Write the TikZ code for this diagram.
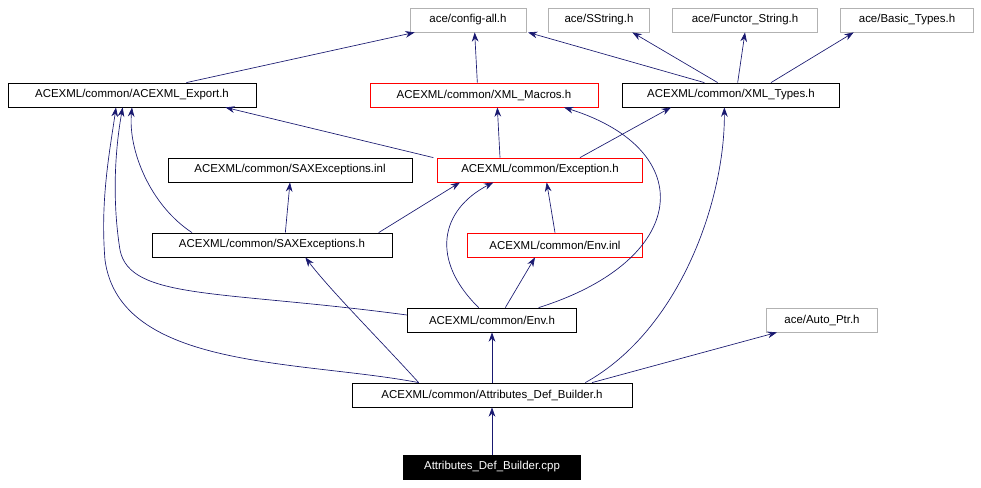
\documentclass[tikz,border=0pt]{standalone}
\usepackage{fontspec}
\setmainfont{Liberation Sans}
\usetikzlibrary{arrows.meta}
\begin{document}
\begin{tikzpicture}[x=0.75pt,y=-0.75pt,
 box/.style={draw=black,fill=white,minimum height=18pt,inner xsep=3pt,font=\fontsize{8.6}{10}\selectfont,line width=0.6pt},
 gray/.style={box,draw=black!30},
 red/.style={box,draw=red},
 e/.style={draw=navy,-{Stealth[length=7pt,width=5pt]},line width=0.5pt}]
\definecolor{navy}{RGB}{25,25,112}
\useasboundingbox (0,0) rectangle (981,488);
\node[gray,minimum width=87pt] (cfg) at (468,20) {ace/config-all.h};
\node[gray,minimum width=76pt] (ss) at (599,20) {ace/SString.h};
\node[gray,minimum width=109pt] (fs) at (745,20) {ace/Functor\_String.h};
\node[gray,minimum width=100pt] (bt) at (907,20) {ace/Basic\_Types.h};
\node[box,minimum width=186pt] (exp) at (132,95) {ACEXML/common/ACEXML\_Export.h};
\node[red,minimum width=171pt] (mac) at (484,95) {ACEXML/common/XML\_Macros.h};
\node[box,minimum width=163pt] (typ) at (731,95) {ACEXML/common/XML\_Types.h};
\node[box,minimum width=183pt] (sinl) at (290,170) {ACEXML/common/SAXExceptions.inl};
\node[red,minimum width=154pt] (exc) at (540,170) {ACEXML/common/Exception.h};
\node[box,minimum width=180pt] (sax) at (272,245) {ACEXML/common/SAXExceptions.h};
\node[red,minimum width=131pt] (einl) at (555,245) {ACEXML/common/Env.inl};
\node[box,minimum width=127pt] (env) at (492,320) {ACEXML/common/Env.h};
\node[gray,minimum width=83pt] (ap) at (822,320) {ace/Auto\_Ptr.h};
\node[box,minimum width=210pt] (adb) at (492,395) {ACEXML/common/Attributes\_Def\_Builder.h};
\node[box,fill=black,text=white,minimum width=133pt] (cpp) at (492,467) {Attributes\_Def\_Builder.cpp};
\draw[e] (exp.north east) ++(-70,0) -- ([xshift=-40]cfg.south);
\draw[e] ([xshift=-5]mac.north) -- ([xshift=5]cfg.south);
\draw[e] ([xshift=-20]typ.north) -- ([xshift=45]cfg.south);
\draw[e] ([xshift=-10]typ.north) -- ([xshift=25]ss.south);
\draw[e] ([xshift=5]typ.north) -- (fs.south);
\draw[e] ([xshift=30]typ.north) -- ([xshift=-40]bt.south);
\draw[e] ([xshift=-80]exc.north) -- ([xshift=70]exp.south);
\draw[e] ([xshift=-30]exc.north) -- ([xshift=10]mac.south);
\draw[e] ([xshift=30]exc.north) -- ([xshift=-45]typ.south);
\draw[e] ([xshift=10]sax.north) -- ([xshift=0]sinl.south);
\draw[e] ([xshift=80]sax.north) -- ([xshift=-60]exc.south);
\draw[e] ([xshift=-60]sax.north) .. controls (150,205) and (128,150) .. ([xshift=0]exp.south);
\draw[e] (einl.north) -- ([xshift=5]exc.south);
\draw[e] ([xshift=10]env.north) -- ([xshift=-15]einl.south);
\draw[e] ([xshift=-10]env.north) .. controls (430,260) and (440,210) .. ([xshift=-35]exc.south);
\draw[e] ([xshift=35]env.north) .. controls (690,260) and (700,150) .. ([xshift=60]mac.south);
\draw[e] (env.west) ++(0,-5) .. controls (220,290) and (130,300) .. (120,250) .. controls (112,200) and (115,150) .. ([xshift=-7]exp.south);
\draw[e] (adb.north) -- (env.south);
\draw[e] ([xshift=75]adb.north) -- ([xshift=8]ap.south west);
\draw[e] ([xshift=70]adb.north) .. controls (680,330) and (725,200) .. ([xshift=-5]typ.south);
\draw[e] ([xshift=-55]adb.north) .. controls (380,340) and (330,290) .. ([xshift=25]sax.south);
\draw[e] ([xshift=-55]adb.north) .. controls (300,360) and (120,370) .. (105,260) .. controls (100,200) and (110,150) .. ([xshift=-12]exp.south);
\draw[e] (cpp.north) -- (adb.south);
\end{tikzpicture}
\end{document}
